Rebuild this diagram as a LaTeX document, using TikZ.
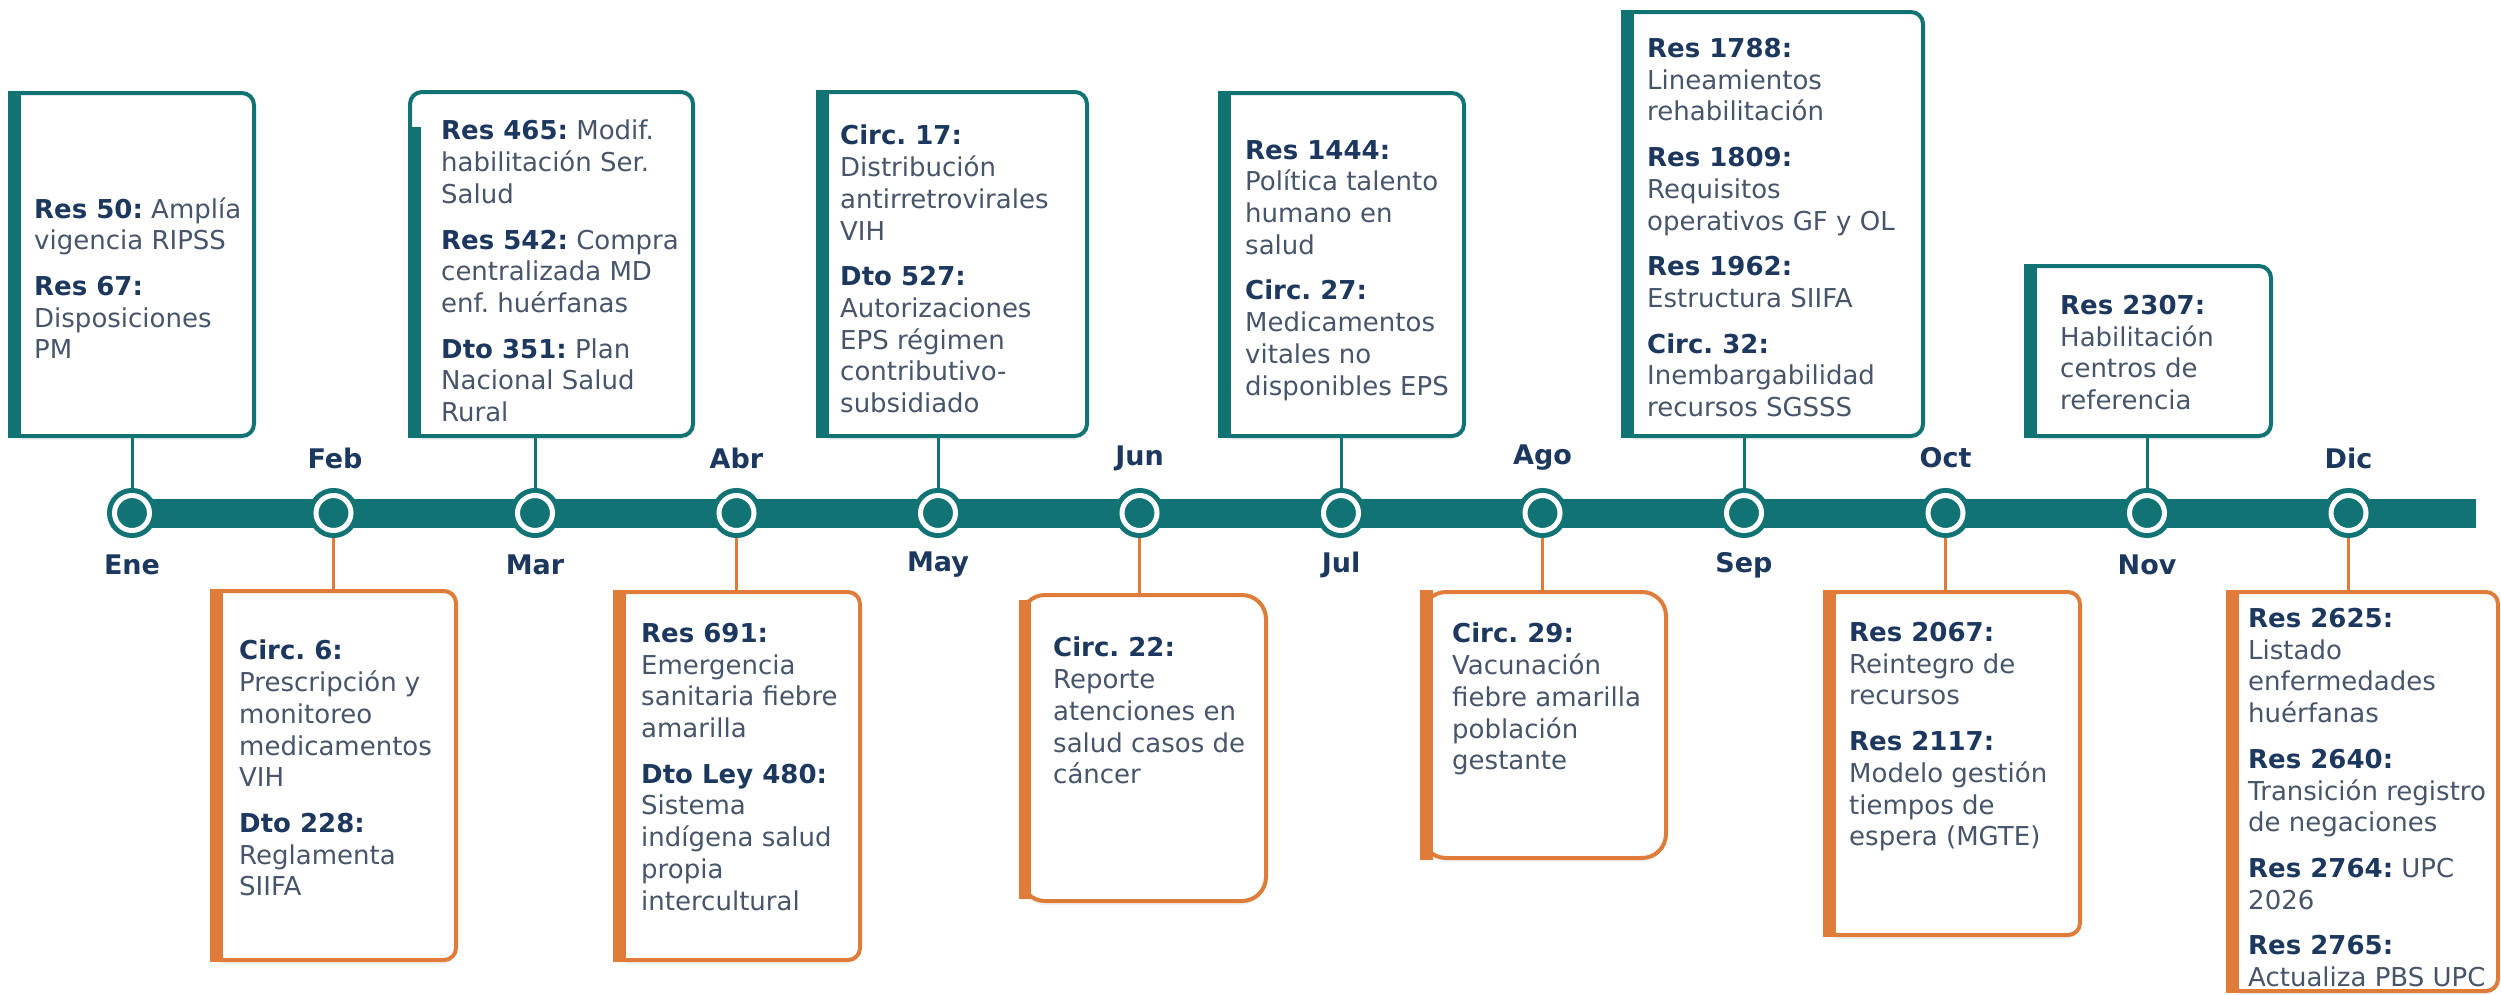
\documentclass[tikz,border=0pt]{standalone}
\usepackage{fontspec}
\setmainfont{DejaVu Sans}
\usepackage{xcolor}
\usetikzlibrary{positioning,shadows}
\definecolor{tealc}{RGB}{17,115,115}
\definecolor{naranja}{RGB}{224,124,58}
\definecolor{navy}{RGB}{28,56,94}
\definecolor{gristxt}{RGB}{70,85,106}
\newcommand{\titulo}[1]{{\bfseries\color{navy}#1}}
\frenchspacing

\begin{document}
\begin{tikzpicture}[x=1pt, y=-1pt,
	dot/.style={circle, fill=tealc, draw=white, line width=5pt, minimum size=35pt, inner sep=0pt, outer sep=7.5pt, preaction={draw=tealc, line width=15pt}},
	mes/.style={text=navy, font=\fontsize{27}{32}\selectfont\bfseries},
	topbox/.style={draw=tealc, line width=4pt, fill=white, rounded corners=12pt, drop shadow={opacity=0.1, shadow xshift=-1pt, shadow yshift=-4pt}},
	botbox/.style={draw=naranja, line width=4pt, fill=white, rounded corners=12pt, drop shadow={opacity=0.1, shadow xshift=-1pt, shadow yshift=-4pt}},
	txt/.style={inner sep=0pt, align=left, text=gristxt, font=\fontsize{26}{31.7}\selectfont},
	tline/.style={draw=tealc, line width=3pt},
	bline/.style={draw=naranja, line width=3pt}]
	\useasboundingbox (0,0) rectangle (2501,994);
	\coordinate (ini) at (120,513);
	\coordinate (fin) at (2476,513);
	\draw[tealc, line width=29pt] (ini) -- (fin);

	\node[topbox, minimum width=244pt, minimum height=343pt] (b1) at (132,264.5) {};
	\node[topbox, minimum width=283pt, minimum height=344pt] (b3) at (551.5,264) {};
	\node[topbox, minimum width=269pt, minimum height=344pt] (b5) at (952.5,264) {};
	\node[topbox, minimum width=244pt, minimum height=343pt] (b7) at (1342,264.5) {};
	\node[topbox, minimum width=300pt, minimum height=424pt] (b9) at (1773,224) {};
	\node[topbox, minimum width=245pt, minimum height=170pt] (b11) at (2148.5,351) {};
	\node[botbox, minimum width=244pt, minimum height=369pt] (b2) at (334,775.5) {};
	\node[botbox, minimum width=245pt, minimum height=368pt] (b4) at (737.5,776) {};
	\node[botbox, minimum width=245pt, minimum height=306pt, rounded corners=24pt] (b6) at (1143.5,748) {};
	\node[botbox, minimum width=244pt, minimum height=266pt, rounded corners=24pt] (b8) at (1544,725) {};
	\node[botbox, minimum width=255pt, minimum height=343pt] (b10) at (1952.5,763.5) {};
	\node[botbox, minimum width=270pt, minimum height=399pt] (b12) at (2363,791.5) {};

	\fill[tealc] (b1.north west) rectangle ([xshift=13pt]b1.south west);
	\fill[tealc] ([yshift=-37pt]b3.north west) rectangle ([xshift=13pt]b3.south west);
	\fill[tealc] (b5.north west) rectangle ([xshift=13pt]b5.south west);
	\fill[tealc] (b7.north west) rectangle ([xshift=13pt]b7.south west);
	\fill[tealc] (b9.north west) rectangle ([xshift=13pt]b9.south west);
	\fill[tealc] (b11.north west) rectangle ([xshift=13pt]b11.south west);
	\fill[naranja] (b2.north west) rectangle ([xshift=13pt]b2.south west);
	\fill[naranja] (b4.north west) rectangle ([xshift=13pt]b4.south west);
	\fill[naranja] ([yshift=-7pt]b6.north west) rectangle ([xshift=12pt, yshift=4pt]b6.south west);
	\fill[naranja] (b8.north west) rectangle ([xshift=13pt]b8.south west);
	\fill[naranja] (b10.north west) rectangle ([xshift=13pt]b10.south west);
	\fill[naranja] (b12.north west) rectangle ([xshift=13pt]b12.south west);

	\node[dot] (m1) at (132,513) {};
	\node[dot] (m2) at (333.5,513) {};
	\node[dot] (m3) at (535,513) {};
	\node[dot] (m4) at (736.5,513) {};
	\node[dot] (m5) at (938,513) {};
	\node[dot] (m6) at (1139.5,513) {};
	\node[dot] (m7) at (1341,513) {};
	\node[dot] (m8) at (1542.5,513) {};
	\node[dot] (m9) at (1744,513) {};
	\node[dot] (m10) at (1945.5,513) {};
	\node[dot] (m11) at (2147,513) {};
	\node[dot] (m12) at (2348.5,513) {};

	\draw[tline] (m1.north) -- (m1 |- b1.south);
	\draw[tline] (m3.north) -- (m3 |- b3.south);
	\draw[tline] (m5.north) -- (m5 |- b5.south);
	\draw[tline] (m7.north) -- (m7 |- b7.south);
	\draw[tline] (m9.north) -- (m9 |- b9.south);
	\draw[tline] (m11.north) -- (m11 |- b11.south);
	\draw[bline] (m2.south) -- (m2 |- b2.north);
	\draw[bline] (m4.south) -- (m4 |- b4.north);
	\draw[bline] (m6.south) -- (m6 |- b6.north);
	\draw[bline] (m8.south) -- (m8 |- b8.north);
	\draw[bline] (m10.south) -- (m10 |- b10.north);
	\draw[bline] (m12.south) -- (m12 |- b12.north);

	\node[mes] (l1) at (132,565) {Ene};
	\node[mes] (l2) at (335,458) {Feb};
	\node[mes] (l3) at (535,565) {Mar};
	\node[mes] (l4) at (736.5,458) {Abr};
	\node[mes] (l5) at (938,565) {May};
	\node[mes] (l6) at (1139.5,458) {Jun};
	\node[mes] (l7) at (1341,565) {Jul};
	\node[mes] (l8) at (1542.5,458) {Ago};
	\node[mes] (l9) at (1744,565) {Sep};
	\node[mes] (l10) at (1945.5,458) {Oct};
	\node[mes] (l11) at (2147,565) {Nov};
	\node[mes] (l12) at (2348.5,458) {Dic};

	\node[txt, below right=106pt and 26pt of b1.north west] (t1) {\titulo{Res 50:} Amplía\\vigencia RIPSS\\[14pt]\titulo{Res 67:}\\Disposiciones\\PM};
	\node[txt, below right=30pt and 33pt of b3.north west] (t3) {\titulo{Res 465:} Modif.\\habilitación Ser.\\Salud\\[14pt]\titulo{Res 542:} Compra\\centralizada MD\\enf. huérfanas\\[14pt]\titulo{Dto 351:} Plan\\Nacional Salud\\Rural};
	\node[txt, below right=35pt and 24pt of b5.north west] (t5) {\titulo{Circ. 17:}\\Distribución\\antirretrovirales\\VIH\\[14pt]\titulo{Dto 527:}\\Autorizaciones\\EPS régimen\\contributivo-\\subsidiado};
	\node[txt, below right=49pt and 27pt of b7.north west] (t7) {\titulo{Res 1444:}\\Política talento\\humano en\\salud\\[14pt]\titulo{Circ. 27:}\\Medicamentos\\vitales no\\disponibles EPS};
	\node[txt, below right=28pt and 26pt of b9.north west] (t9) {\titulo{Res 1788:}\\Lineamientos\\rehabilitación\\[14pt]\titulo{Res 1809:}\\Requisitos\\operativos GF y OL\\[14pt]\titulo{Res 1962:}\\Estructura SIIFA\\[14pt]\titulo{Circ. 32:}\\Inembargabilidad\\recursos SGSSS};
	\node[txt, below right=31pt and 36pt of b11.north west] (t11) {\titulo{Res 2307:}\\Habilitación\\centros de\\referencia};
	\node[txt, below right=51pt and 29pt of b2.north west] (t2) {\titulo{Circ. 6:}\\Prescripción y\\monitoreo\\medicamentos\\VIH\\[14pt]\titulo{Dto 228:}\\Reglamenta\\SIIFA};
	\node[txt, below right=33pt and 28pt of b4.north west] (t4) {\titulo{Res 691:}\\Emergencia\\sanitaria fiebre\\amarilla\\[14pt]\titulo{Dto Ley 480:}\\Sistema\\indígena salud\\propia\\intercultural};
	\node[txt, below right=44pt and 34pt of b6.north west] (t6) {\titulo{Circ. 22:}\\Reporte\\atenciones en\\salud casos de\\cáncer};
	\node[txt, below right=33pt and 32pt of b8.north west] (t8) {\titulo{Circ. 29:}\\Vacunación\\fiebre amarilla\\población\\gestante};
	\node[txt, below right=32pt and 26pt of b10.north west] (t10) {\titulo{Res 2067:}\\Reintegro de\\recursos\\[14pt]\titulo{Res 2117:}\\Modelo gestión\\tiempos de\\espera (MGTE)};
	\node[txt, below right=18pt and 22pt of b12.north west] (t12) {\titulo{Res 2625:}\\Listado\\enfermedades\\huérfanas\\[14pt]\titulo{Res 2640:}\\Transición registro\\de negaciones\\[14pt]\titulo{Res 2764:} UPC\\2026\\[14pt]\titulo{Res 2765:}\\Actualiza PBS UPC};
\end{tikzpicture}
\end{document}
